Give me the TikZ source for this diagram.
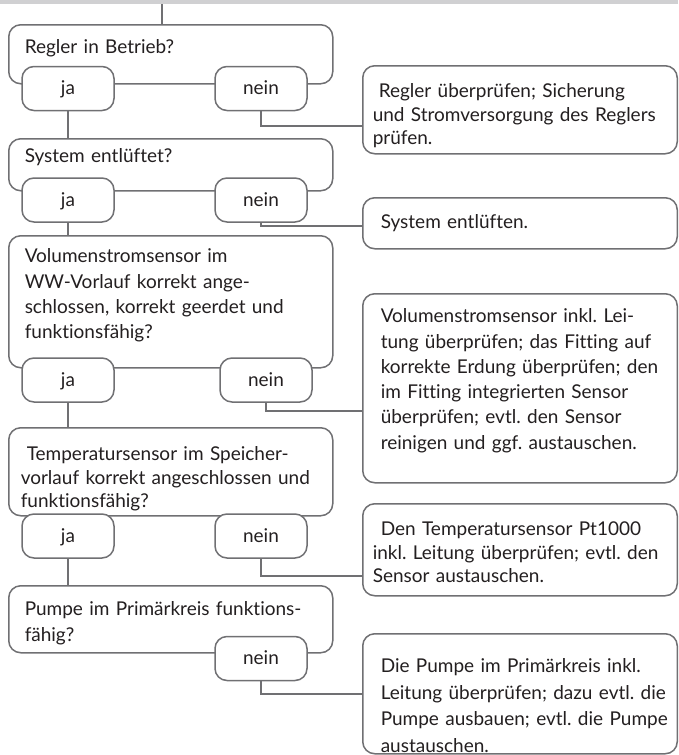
\documentclass[tikz,border=0pt]{standalone}
\usepackage{fontspec}
\setmainfont{Lato}[Ligatures=NoCommon]
\frenchspacing
\usetikzlibrary{positioning,calc}
\definecolor{fcLine}{RGB}{112,112,115}
\definecolor{fcText}{RGB}{35,31,32}
\definecolor{fcBand}{RGB}{208,208,210}

\begin{document}
\begin{tikzpicture}[x=1pt, y=-1pt,
  box/.style={draw=fcLine, line width=1.5pt, rounded corners=12pt, fill=white, text=fcText, font=\fontsize{19pt}{25.3pt}\selectfont},
  tight/.style={font=\fontsize{19pt}{23.4pt}\selectfont},
  indent/.style={execute at begin node={\leftskip=#1\relax}},
  qbox/.style 2 args={box, anchor=north west, align=left, text width=316pt, inner xsep=4pt, inner ysep=8pt, text height=#1, text depth=#2, indent=12pt},
  abox/.style 2 args={box, anchor=north west, align=left, text width=306.5pt, inner xsep=4pt, inner ysep=8pt, text height=#1, text depth=#2, indent=14pt},
  answer/.style={box, minimum width=92pt, minimum height=44pt, inner sep=0pt, text height=14pt, text depth=2pt},
  link/.style={draw=fcLine, line width=1.5pt}]
  \useasboundingbox (0,0) rectangle (678,755);
  \fill[fcBand] (0,0) rectangle (678,4);

  % questions
  \node[qbox={21pt}{22pt}] (q1) at (8,24) {Regler in Betrieb?};
  \node[qbox={16pt}{20pt}] (q2) at (8,138) {System entlüftet?};
  \node[qbox={19pt}{97pt}] (q3) at (8,235) {Volumenstromsensor im\\WW-Vorlauf korrekt ange-\\schlossen, korrekt geerdet und\\funktionsfähig?};
  \node[qbox={25pt}{47pt}, tight, indent=8pt] (q4) at (8,427) {\hspace*{6pt}Temperatursensor im Speicher-\\vorlauf korrekt angeschlossen und\\funktionsfähig?};
  \node[qbox={22pt}{29pt}] (q5) at (8,585) {Pumpe im Primärkreis funktions-\\fähig?};

  % answers
  \node[answer] (ja1) at (68,88.5) {ja};
  \node[answer] (nein1) at (261,88.5) {nein};
  \node[answer] (ja2) at (68,200) {ja};
  \node[answer] (nein2) at (261,200) {nein};
  \node[answer] (ja3) at (68,380) {ja};
  \node[answer] (nein3) at (266,380) {nein};
  \node[answer] (ja4) at (68,536) {ja};
  \node[answer] (nein4) at (261,536) {nein};
  \node[answer] (nein5) at (261,658.5) {nein};

  % actions
  \node[abox={24pt}{48pt}, tight, indent=6pt] (a1) at (362,65) {\hspace*{6pt}Regler überprüfen; Sicherung\\und Stromversorgung des Reglers\\prüfen.};
  \node[abox={23pt}{12pt}] (a2) at (362,197) {System entlüften.};
  \node[abox={21pt}{152pt}] (a3) at (362,293) {Volumenstromsensor inkl. Lei-\\tung überprüfen; das Fitting auf\\korrekte Erdung überprüfen; den\\im Fitting integrierten Sensor\\überprüfen; evtl. den Sensor\\reinigen und ggf. austauschen.};
  \node[abox={24pt}{52pt}, tight, indent=6pt] (a4) at (362,503) {\hspace*{8pt}Den Temperatursensor Pt1000\\inkl. Leitung überprüfen; evtl. den\\Sensor austauschen.};
  \node[abox={31pt}{73pt}, font=\fontsize{19pt}{26.5pt}\selectfont] (a5) at (362,633) {Die Pumpe im Primärkreis inkl.\\Leitung überprüfen; dazu evtl. die\\Pumpe ausbauen; evtl. die Pumpe\\austauschen.};

  % connectors
  \coordinate (feed) at (162,4);
  \draw[link] (feed) -- (feed |- q1.north);
  \draw[link] (ja1.south) -- (ja1.south |- q2.north);
  \draw[link] (ja2.south) -- (ja2.south |- q3.north);
  \draw[link] (ja3.south) -- (ja3.south |- q4.north);
  \draw[link] (ja4.south) -- (ja4.south |- q5.north);
  \draw[link] (nein1.south) |- ([yshift=-16pt]a1.west);
  \draw[link] (nein2.south) |- ([yshift=-2.5pt]a2.west);
  \draw[link] (nein3.south) |- ([yshift=-22.5pt]a3.west);
  \draw[link] (nein4.south) |- ([yshift=-26pt]a4.west);
  \draw[link] (nein5.south) |- (a5.west);
\end{tikzpicture}
\end{document}
